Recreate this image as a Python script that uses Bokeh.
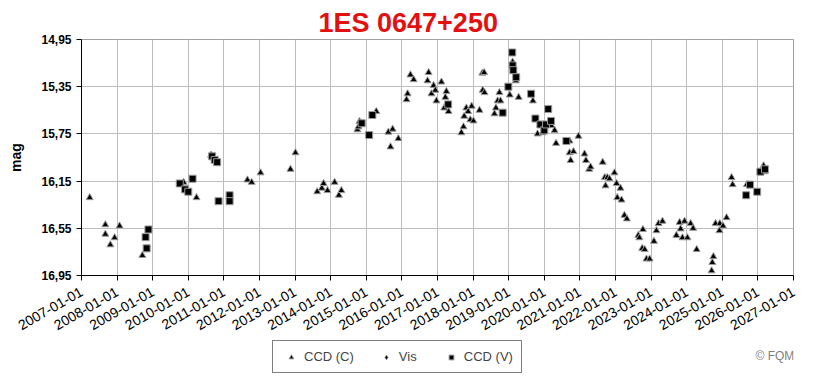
from bokeh.plotting import figure
from bokeh.layouts import column
from bokeh.models import Range1d, FixedTicker, Label, Legend, LegendItem, ColumnDataSource
from bokeh.embed import file_html
from bokeh.resources import INLINE

# ---- data (decimal year, magnitude) ----
ccd_c_year = [2007.23, 2007.67, 2007.67, 2007.81, 2007.93, 2008.07, 2008.71, 2009.87, 2010.23, 2010.64,
              2011.66, 2011.78, 2012.03, 2012.87, 2013.01, 2013.62, 2013.75, 2013.80, 2013.91, 2014.11,
              2014.23, 2014.30, 2014.75, 2014.78, 2014.81, 2015.28, 2015.62, 2015.68, 2015.74, 2015.90,
              2016.13, 2016.16, 2016.24, 2016.33, 2016.72, 2016.75, 2016.83, 2016.89, 2016.94, 2016.97,
              2017.11, 2017.19, 2017.22, 2017.25, 2017.31, 2017.67, 2017.73, 2017.75, 2017.81, 2017.86,
              2017.92, 2017.96, 2018.01, 2018.18, 2018.26, 2018.31, 2018.27, 2018.32, 2018.60, 2018.64,
              2018.69, 2018.74, 2018.77, 2019.03, 2019.11, 2019.20, 2019.28, 2019.68, 2019.81, 2019.95,
              2020.20, 2020.29, 2020.33, 2020.71, 2020.71, 2020.74, 2020.82, 2020.96, 2021.13, 2021.17,
              2021.26, 2021.30, 2021.64, 2021.70, 2021.72, 2021.77, 2021.83, 2021.97, 2022.03, 2022.05,
              2022.14, 2022.17, 2022.25, 2022.32, 2022.64, 2022.67, 2022.75, 2022.77, 2022.82, 2022.87,
              2022.96, 2023.08, 2023.15, 2023.21, 2023.32, 2023.71, 2023.80, 2023.83, 2023.88, 2023.94,
              2024.02, 2024.11, 2024.18, 2024.28, 2024.70, 2024.72, 2024.75, 2024.81, 2024.92, 2024.93,
              2025.02, 2025.12, 2025.26, 2025.29, 2025.69, 2026.16, 2026.19]
ccd_c_mag = [16.29, 16.52, 16.60, 16.69, 16.63, 16.53, 16.78, 16.16, 16.29, 15.93,
             16.14, 16.16, 16.08, 16.05, 15.91, 16.24, 16.21, 16.17, 16.23, 16.16,
             16.27, 16.23, 15.715, 15.69, 15.645, 15.56, 15.735, 15.86, 15.71, 15.79,
             15.46, 15.41, 15.25, 15.29, 15.30, 15.23, 15.41, 15.34, 15.38, 15.47,
             15.31, 15.53, 15.44, 15.39, 15.56, 15.74, 15.69, 15.60, 15.53, 15.56,
             15.63, 15.515, 15.64, 15.55, 15.235, 15.23, 15.38, 15.40, 15.58, 15.53,
             15.47, 15.40, 15.47, 15.42, 15.14, 15.30, 15.44, 15.47, 15.75, 15.74,
             15.68, 15.72, 15.83, 15.81, 15.91, 15.975, 15.90, 15.77, 15.92, 15.975,
             16.05, 16.03, 15.99, 16.12, 16.19, 16.12, 16.13, 16.08, 16.17, 16.29,
             16.21, 16.31, 16.44, 16.47, 16.61, 16.63, 16.72, 16.56, 16.73, 16.81,
             16.81, 16.66, 16.57, 16.51, 16.49, 16.61, 16.50, 16.555, 16.63, 16.49,
             16.63, 16.51, 16.55, 16.73, 16.91, 16.84, 16.79, 16.51, 16.57, 16.51,
             16.53, 16.46, 16.12, 16.18, 16.18, 16.02, 16.07]

ccd_v_year = [2008.80, 2008.83, 2008.88, 2009.76, 2009.91, 2010.00, 2010.12, 2010.67, 2010.74, 2010.81,
              2010.85, 2011.16, 2011.16, 2014.87, 2015.08, 2015.17, 2017.30, 2018.83, 2018.99, 2019.10,
              2019.11, 2019.13, 2019.21, 2019.63, 2019.75, 2019.89, 2020.00, 2020.05, 2020.11, 2020.19,
              2020.62, 2025.67, 2025.78, 2025.98, 2026.07, 2026.20]
ccd_v_mag = [16.625, 16.72, 16.56, 16.17, 16.22, 16.24, 16.13, 15.94, 15.97, 15.99,
             16.32, 16.27, 16.32, 15.66, 15.76, 15.59, 15.50, 15.57, 15.35, 15.06,
             15.17, 15.21, 15.27, 15.41, 15.62, 15.67, 15.72, 15.67, 15.54, 15.64,
             15.81, 16.27, 16.18, 16.24, 16.07, 16.05]

vis_year = []
vis_mag = []

year_ticks = list(range(2007, 2028))
year_labels = ["%d-01-01" % y for y in year_ticks]
mag_ticks = [14.95, 15.35, 15.75, 16.15, 16.55, 16.95]
mag_labels = ["14,95", "15,35", "15,75", "16,15", "16,55", "16,95"]

title_text = "1ES 0647+250"
series_names = ["CCD (C)", "Vis", "CCD (V)"]
copyright_text = "\u00a9 FQM"

FONT = "Liberation Sans"
W = 820
LEFT, RIGHT = 81, 27
FRAME_W = W - LEFT - RIGHT
MAIN_H, LEG_H = 338, 39

# ---- main chart (with title) ----
p = figure(width=W, height=MAIN_H, output_backend="svg", toolbar_location=None,
           x_range=Range1d(2007, 2027), y_range=Range1d(16.95, 14.95),
           min_border_left=LEFT, min_border_right=RIGHT, min_border_top=39, min_border_bottom=63)
p.background_fill_color = "white"
p.border_fill_color = "white"
p.outline_line_color = "#a0a0a0"

p.title.text = title_text
p.title.align = "left"
p.title.offset = 237
p.title.text_font = FONT
p.title.text_font_size = "27px"
p.title.text_font_style = "bold"
p.title.text_color = "#e31010"
p.title.standoff = 3

p.xaxis.ticker = FixedTicker(ticks=year_ticks)
p.xaxis.major_label_overrides = {y: l for y, l in zip(year_ticks, year_labels)}
p.xaxis.major_label_orientation = 0.52
p.xaxis.major_label_text_font = FONT
p.xaxis.major_label_text_font_size = "14px"
p.xaxis.major_label_text_color = "black"
p.xaxis.major_label_standoff = 10

p.yaxis.ticker = FixedTicker(ticks=mag_ticks)
p.yaxis.major_label_overrides = {t: l for t, l in zip(mag_ticks, mag_labels)}
p.yaxis.major_label_text_font = FONT
p.yaxis.major_label_text_font_size = "12px"
p.yaxis.major_label_text_font_style = "bold"
p.yaxis.major_label_text_color = "black"
p.yaxis.major_label_standoff = 5
p.yaxis.axis_label = "mag"
p.yaxis.axis_label_text_font = FONT
p.yaxis.axis_label_text_font_size = "14px"
p.yaxis.axis_label_text_font_style = "bold"
p.yaxis.axis_label_text_color = "black"
p.yaxis.axis_label_standoff = 14

for ax in (p.xaxis, p.yaxis):
    ax.axis_line_color = "black"
    ax.major_tick_line_color = "black"
    ax.major_tick_out = 5
    ax.major_tick_in = 0
    ax.minor_tick_line_color = None

p.xgrid.grid_line_color = "#bdbdbd"
p.ygrid.grid_line_color = "#bdbdbd"

src_c = ColumnDataSource(dict(x=ccd_c_year, y=ccd_c_mag))
src_v = ColumnDataSource(dict(x=ccd_v_year, y=ccd_v_mag))
src_vis = ColumnDataSource(dict(x=vis_year, y=vis_mag))

marker_style = dict(size=7, fill_color="black", line_color="#9a9a9a", line_width=1)
p.scatter("x", "y", source=src_c, marker="triangle", **marker_style)
p.scatter("x", "y", source=src_vis, marker="diamond", **marker_style)
p.scatter("x", "y", source=src_v, marker="square", **marker_style)

# ---- legend strip (frame aligned with the chart frame; 1 unit = 1 px) ----
pl = figure(width=W, height=LEG_H, output_backend="svg", toolbar_location=None,
            x_range=Range1d(0, FRAME_W), y_range=Range1d(0, LEG_H),
            min_border_left=LEFT, min_border_right=RIGHT, min_border_top=0, min_border_bottom=0)
pl.axis.visible = False
pl.grid.visible = False
pl.outline_line_color = None
pl.background_fill_color = "white"
pl.border_fill_color = "white"

offscreen = ColumnDataSource(dict(x=[-1000], y=[-1000]))
legend_style = dict(size=6, fill_color="black", line_color="#9a9a9a", line_width=1)
l_c = pl.scatter("x", "y", source=offscreen, marker="triangle", **legend_style)
l_vis = pl.scatter("x", "y", source=offscreen, marker="diamond", **legend_style)
l_v = pl.scatter("x", "y", source=offscreen, marker="square", **legend_style)

legend = Legend(items=[LegendItem(label=series_names[0], renderers=[l_c]),
                       LegendItem(label=series_names[1], renderers=[l_vis]),
                       LegendItem(label=series_names[2], renderers=[l_v])],
                orientation="horizontal", location=(191, 4),
                glyph_width=20, glyph_height=12, label_standoff=3, spacing=22,
                padding=8, margin=0, label_height=13,
                label_text_font=FONT, label_text_font_size="13px",
                border_line_color="black", border_line_width=1,
                background_fill_color="white", background_fill_alpha=1)
pl.add_layout(legend)
pl.add_layout(Label(x=674, y=22, text=copyright_text, text_align="left", text_baseline="middle",
                    text_font=FONT, text_font_size="12px", text_color="#808080"))

layout = column(p, pl, spacing=0)
open("out.html", "w").write(file_html(layout, INLINE))
